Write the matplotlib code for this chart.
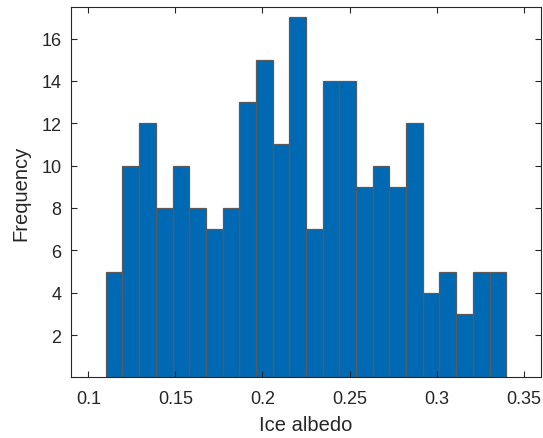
import numpy as np
import matplotlib.pyplot as plt

# --- histogram data ---
bin_start = 0.11
bin_end = 0.34
counts = [5, 10, 12, 8, 10, 8, 7, 8, 13, 15, 11, 17, 7, 14, 14, 9, 10, 9, 12, 4, 5, 3, 5, 5]
x_ticks = [0.1, 0.15, 0.2, 0.25, 0.3, 0.35]
x_tick_labels = ['0.1', '0.15', '0.2', '0.25', '0.3', '0.35']
y_ticks = [2, 4, 6, 8, 10, 12, 14, 16]

edges = np.linspace(bin_start, bin_end, len(counts) + 1)

plt.rcParams['font.family'] = ['Liberation Sans', 'DejaVu Sans']

fig = plt.figure(figsize=(5.43, 4.39), dpi=100)
ax = fig.add_axes([71 / 543, 1 - 378.4 / 439, 470 / 543, 370 / 439])

ax.bar(edges[:-1], counts, width=np.diff(edges), align='edge',
       color='#0069b4', edgecolor='#5a5a5a', linewidth=0.9)

ax.set_xlim(0.09, 0.36)
ax.set_ylim(0, 17.47)
ax.set_xticks(x_ticks)
ax.set_xticklabels(x_tick_labels)
ax.set_yticks(y_ticks)

axis_col = '#262626'
for s in ax.spines.values():
    s.set_color('#262626')
    s.set_linewidth(0.8)
ax.tick_params(direction='in', top=True, right=True, length=4, width=0.8,
               colors=axis_col, labelsize=13, pad=7)
ax.tick_params(axis='x', pad=9)

ax.set_xlabel('Ice albedo', fontsize=14.5, color=axis_col, labelpad=6)
ax.set_ylabel('Frequency', fontsize=14.5, color=axis_col, labelpad=8)

fig.savefig('out.png', dpi=100)
